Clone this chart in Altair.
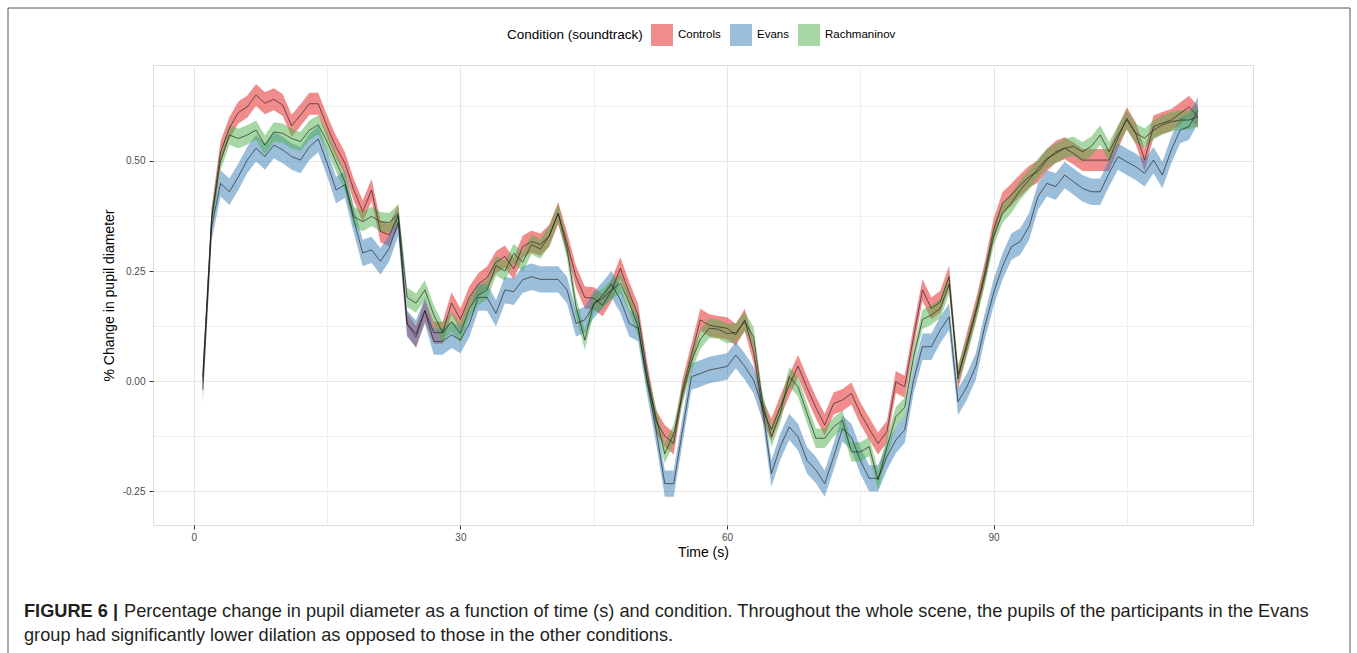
import altair as alt
import pandas as pd

# ---------------- data ----------------
TIME_S = list(range(1, 114))

CONTROLS = [
    0.01, 0.37, 0.52, 0.575, 0.61, 0.623, 0.65, 0.631, 0.64, 0.627,
    0.58, 0.604, 0.63, 0.63, 0.578, 0.532, 0.495, 0.434, 0.385, 0.434,
    0.34, 0.332, 0.375, 0.13, 0.10, 0.16, 0.11, 0.11, 0.177, 0.14,
    0.19, 0.22, 0.235, 0.27, 0.283, 0.255, 0.305, 0.317, 0.31, 0.33,
    0.381, 0.313, 0.237, 0.19, 0.188, 0.172, 0.205, 0.256, 0.2, 0.15,
    0.02, -0.09, -0.125, -0.142, -0.02, 0.06, 0.139, 0.127, 0.123, 0.12,
    0.105, 0.139, 0.065, -0.065, -0.11, -0.058, -0.01, 0.034, -0.015, -0.06,
    -0.1, -0.051, -0.043, -0.028, -0.073, -0.108, -0.142, -0.115, -0.002, -0.013,
    0.1, 0.207, 0.165, 0.18, 0.237, 0.005, 0.086, 0.161, 0.245, 0.343,
    0.404, 0.423, 0.445, 0.464, 0.476, 0.502, 0.521, 0.529, 0.517, 0.502,
    0.502, 0.502, 0.502, 0.552, 0.597, 0.563, 0.502, 0.578, 0.586, 0.593,
    0.608, 0.623, 0.60,
]

EVANS = [
    -0.02, 0.35, 0.449, 0.43, 0.464, 0.502, 0.529, 0.51, 0.536, 0.525,
    0.51, 0.502, 0.532, 0.55, 0.495, 0.434, 0.446, 0.366, 0.291, 0.298,
    0.272, 0.302, 0.36, 0.13, 0.108, 0.16, 0.09, 0.09, 0.105, 0.093,
    0.13, 0.19, 0.19, 0.154, 0.207, 0.203, 0.23, 0.237, 0.231, 0.231,
    0.231, 0.207, 0.131, 0.139, 0.173, 0.195, 0.22, 0.185, 0.131, 0.12,
    0.0, -0.11, -0.233, -0.233, -0.111, 0.01, 0.017, 0.025, 0.029, 0.033,
    0.059, 0.033, 0.002, -0.06, -0.21, -0.149, -0.104, -0.127, -0.18, -0.202,
    -0.233, -0.172, -0.108, -0.127, -0.18, -0.221, -0.221, -0.172, -0.134, -0.111,
    0.002, 0.078, 0.078, 0.116, 0.146, -0.047, -0.013, 0.033, 0.123, 0.2,
    0.26, 0.305, 0.317, 0.351, 0.419, 0.449, 0.442, 0.468, 0.453, 0.438,
    0.43, 0.43, 0.472, 0.51, 0.498, 0.487, 0.472, 0.502, 0.468, 0.525,
    0.57, 0.578, 0.615,
]

RACHMANINOV = [
    0.0, 0.37, 0.5, 0.559, 0.551, 0.559, 0.57, 0.536, 0.566, 0.563,
    0.551, 0.544, 0.57, 0.582, 0.544, 0.498, 0.453, 0.374, 0.362, 0.374,
    0.362, 0.36, 0.38, 0.19, 0.177, 0.207, 0.15, 0.11, 0.135, 0.108,
    0.165, 0.195, 0.207, 0.262, 0.25, 0.29, 0.27, 0.31, 0.3, 0.33,
    0.381, 0.3, 0.17, 0.093, 0.177, 0.188, 0.207, 0.222, 0.177, 0.123,
    0.002, -0.081, -0.165, -0.12, -0.03, 0.045, 0.095, 0.12, 0.118, 0.108,
    0.11, 0.135, 0.1, -0.05, -0.127, -0.073, 0.01, -0.013, -0.073, -0.13,
    -0.13, -0.104, -0.089, -0.161, -0.161, -0.149, -0.225, -0.149, -0.081, -0.06,
    0.055, 0.14, 0.15, 0.165, 0.22, 0.015, 0.078, 0.154, 0.237, 0.328,
    0.381, 0.404, 0.434, 0.457, 0.483, 0.506, 0.517, 0.529, 0.533, 0.521,
    0.533, 0.559, 0.521, 0.559, 0.593, 0.563, 0.552, 0.57, 0.582, 0.589,
    0.593, 0.593, 0.6,
]

CONDITIONS = ["Controls", "Evans", "Rachmaninov"]
COLORS = ["#E41A1C", "#377EB8", "#4DAF4A"]
BAND_HALF = [0.025, 0.03, 0.022]  # estimated half-width of each ribbon

X_TICKS = [0, 30, 60, 90]
X_MINOR = [15, 45, 75, 105]
Y_TICKS = [-0.25, 0.0, 0.25, 0.5]
Y_MINOR = [-0.125, 0.125, 0.375, 0.625]

CAPTION_BOLD = "FIGURE 6 |"
CAPTION_1 = ("Percentage change in pupil diameter as a function of time (s) and condition. "
             "Throughout the whole scene, the pupils of the participants in the Evans")
CAPTION_2 = "group had significantly lower dilation as opposed to those in the other conditions."

# ---------------- build table ----------------
rows = []
for cond, vals, half in zip(CONDITIONS, [CONTROLS, EVANS, RACHMANINOV], BAND_HALF):
    for t, v in zip(TIME_S, vals):
        rows.append({"condition": cond, "time": t, "mean": v,
                     "lo": v - half, "hi": v + half})
df = pd.DataFrame(rows)

FONT = "Liberation Sans"
W, H = 1100, 460
PAD_L, PAD_T = 153, 65
CAP_SIZE = 18.2

x_scale = alt.Scale(domain=[-4.6, 119.2], nice=False, zero=False)
y_scale = alt.Scale(domain=[-0.327, 0.718], nice=False, zero=False)

major_x = "datum.value % 30 === 0"
major_y = "abs(datum.value * 4 - round(datum.value * 4)) < 0.001"

x_axis = alt.Axis(
    values=sorted(X_TICKS + X_MINOR),
    labelExpr=f"{major_x} ? datum.label : ''",
    tickOpacity={"condition": {"test": major_x, "value": 1}, "value": 0},
    gridWidth={"condition": {"test": major_x, "value": 1.1}, "value": 0.6},
    gridColor="#e6e6e6",
    tickColor="#333333", tickSize=4, domain=False,
    labelFontSize=10, labelColor="#4d4d4d", labelPadding=3, labelFont=FONT,
    labelOverlap=False,
    title="Time (s)", titleFontSize=14, titleFontWeight="normal",
    titleColor="#000000", titlePadding=3, titleFont=FONT,
)
y_axis = alt.Axis(
    values=sorted(Y_TICKS + Y_MINOR),
    labelExpr=f"{major_y} ? replace(format(datum.value, '.2f'), '\u2212', '-') : ''",
    tickOpacity={"condition": {"test": major_y, "value": 1}, "value": 0},
    gridWidth={"condition": {"test": major_y, "value": 1.1}, "value": 0.6},
    gridColor="#e6e6e6",
    tickColor="#333333", tickSize=4, domain=False,
    labelFontSize=10, labelColor="#4d4d4d", labelPadding=4, labelFont=FONT,
    labelOverlap=False,
    title="% Change in pupil diameter", titleFontSize=14, titleFontWeight="normal",
    titleColor="#000000", titlePadding=6, titleFont=FONT,
)

legend = alt.Legend(
    orient="none", legendX=354, legendY=-41, direction="horizontal",
    title="Condition (soundtrack)", titleOrient="left",
    titleFontSize=13.5, titleFontWeight="normal", titleColor="#000000", titleFont=FONT,
    titlePadding=8,
    symbolType="square", symbolSize=484, symbolOpacity=0.5, symbolStrokeWidth=0,
    labelFontSize=11.5, labelColor="#000000", labelFont=FONT, labelOffset=5,
    columnPadding=9,
)

bands = alt.Chart(df).mark_area(opacity=0.5).encode(
    x=alt.X("time:Q", scale=x_scale, axis=x_axis),
    y=alt.Y("lo:Q", scale=y_scale, axis=y_axis),
    y2="hi:Q",
    color=alt.Color("condition:N", scale=alt.Scale(domain=CONDITIONS, range=COLORS),
                    legend=legend),
)

lines = alt.Chart(df).mark_line(color="#1a1a1a", strokeWidth=0.8, opacity=0.8).encode(
    x=alt.X("time:Q", scale=x_scale),
    y=alt.Y("mean:Q", scale=y_scale),
    detail="condition:N",
)

one = pd.DataFrame({"k": [0]})

frame = alt.Chart(one).mark_rect(fillOpacity=0, stroke="#555555", strokeWidth=1).encode(
    x=alt.value(8 - PAD_L), x2=alt.value(1350 - PAD_L),
    y=alt.value(8 - PAD_T), y2=alt.value(700 - PAD_T),
)

cap_bold = alt.Chart(one).mark_text(
    align="left", baseline="alphabetic", fontSize=CAP_SIZE, font=FONT,
    fontWeight="bold", color="#231f20",
).encode(x=alt.value(24 - PAD_L), y=alt.value(617 - PAD_T), text=alt.value(CAPTION_BOLD))

cap1 = alt.Chart(one).mark_text(
    align="left", baseline="alphabetic", fontSize=CAP_SIZE, font=FONT, color="#231f20",
).encode(x=alt.value(124 - PAD_L), y=alt.value(617 - PAD_T), text=alt.value(CAPTION_1))

cap2 = alt.Chart(one).mark_text(
    align="left", baseline="alphabetic", fontSize=CAP_SIZE, font=FONT, color="#231f20",
).encode(x=alt.value(24 - PAD_L), y=alt.value(641 - PAD_T), text=alt.value(CAPTION_2))

chart = alt.layer(frame, bands, lines, cap_bold, cap1, cap2).properties(
    width=W, height=H,
    padding={"left": PAD_L, "top": PAD_T, "right": 1357 - PAD_L - W, "bottom": 653 - PAD_T - H},
    autosize=alt.AutoSizeParams(type="none"),
    background="white",
).configure_view(stroke="#555555", strokeWidth=1).configure(font=FONT)

chart.save("out.html", embed_options={"renderer": "svg", "actions": False})
